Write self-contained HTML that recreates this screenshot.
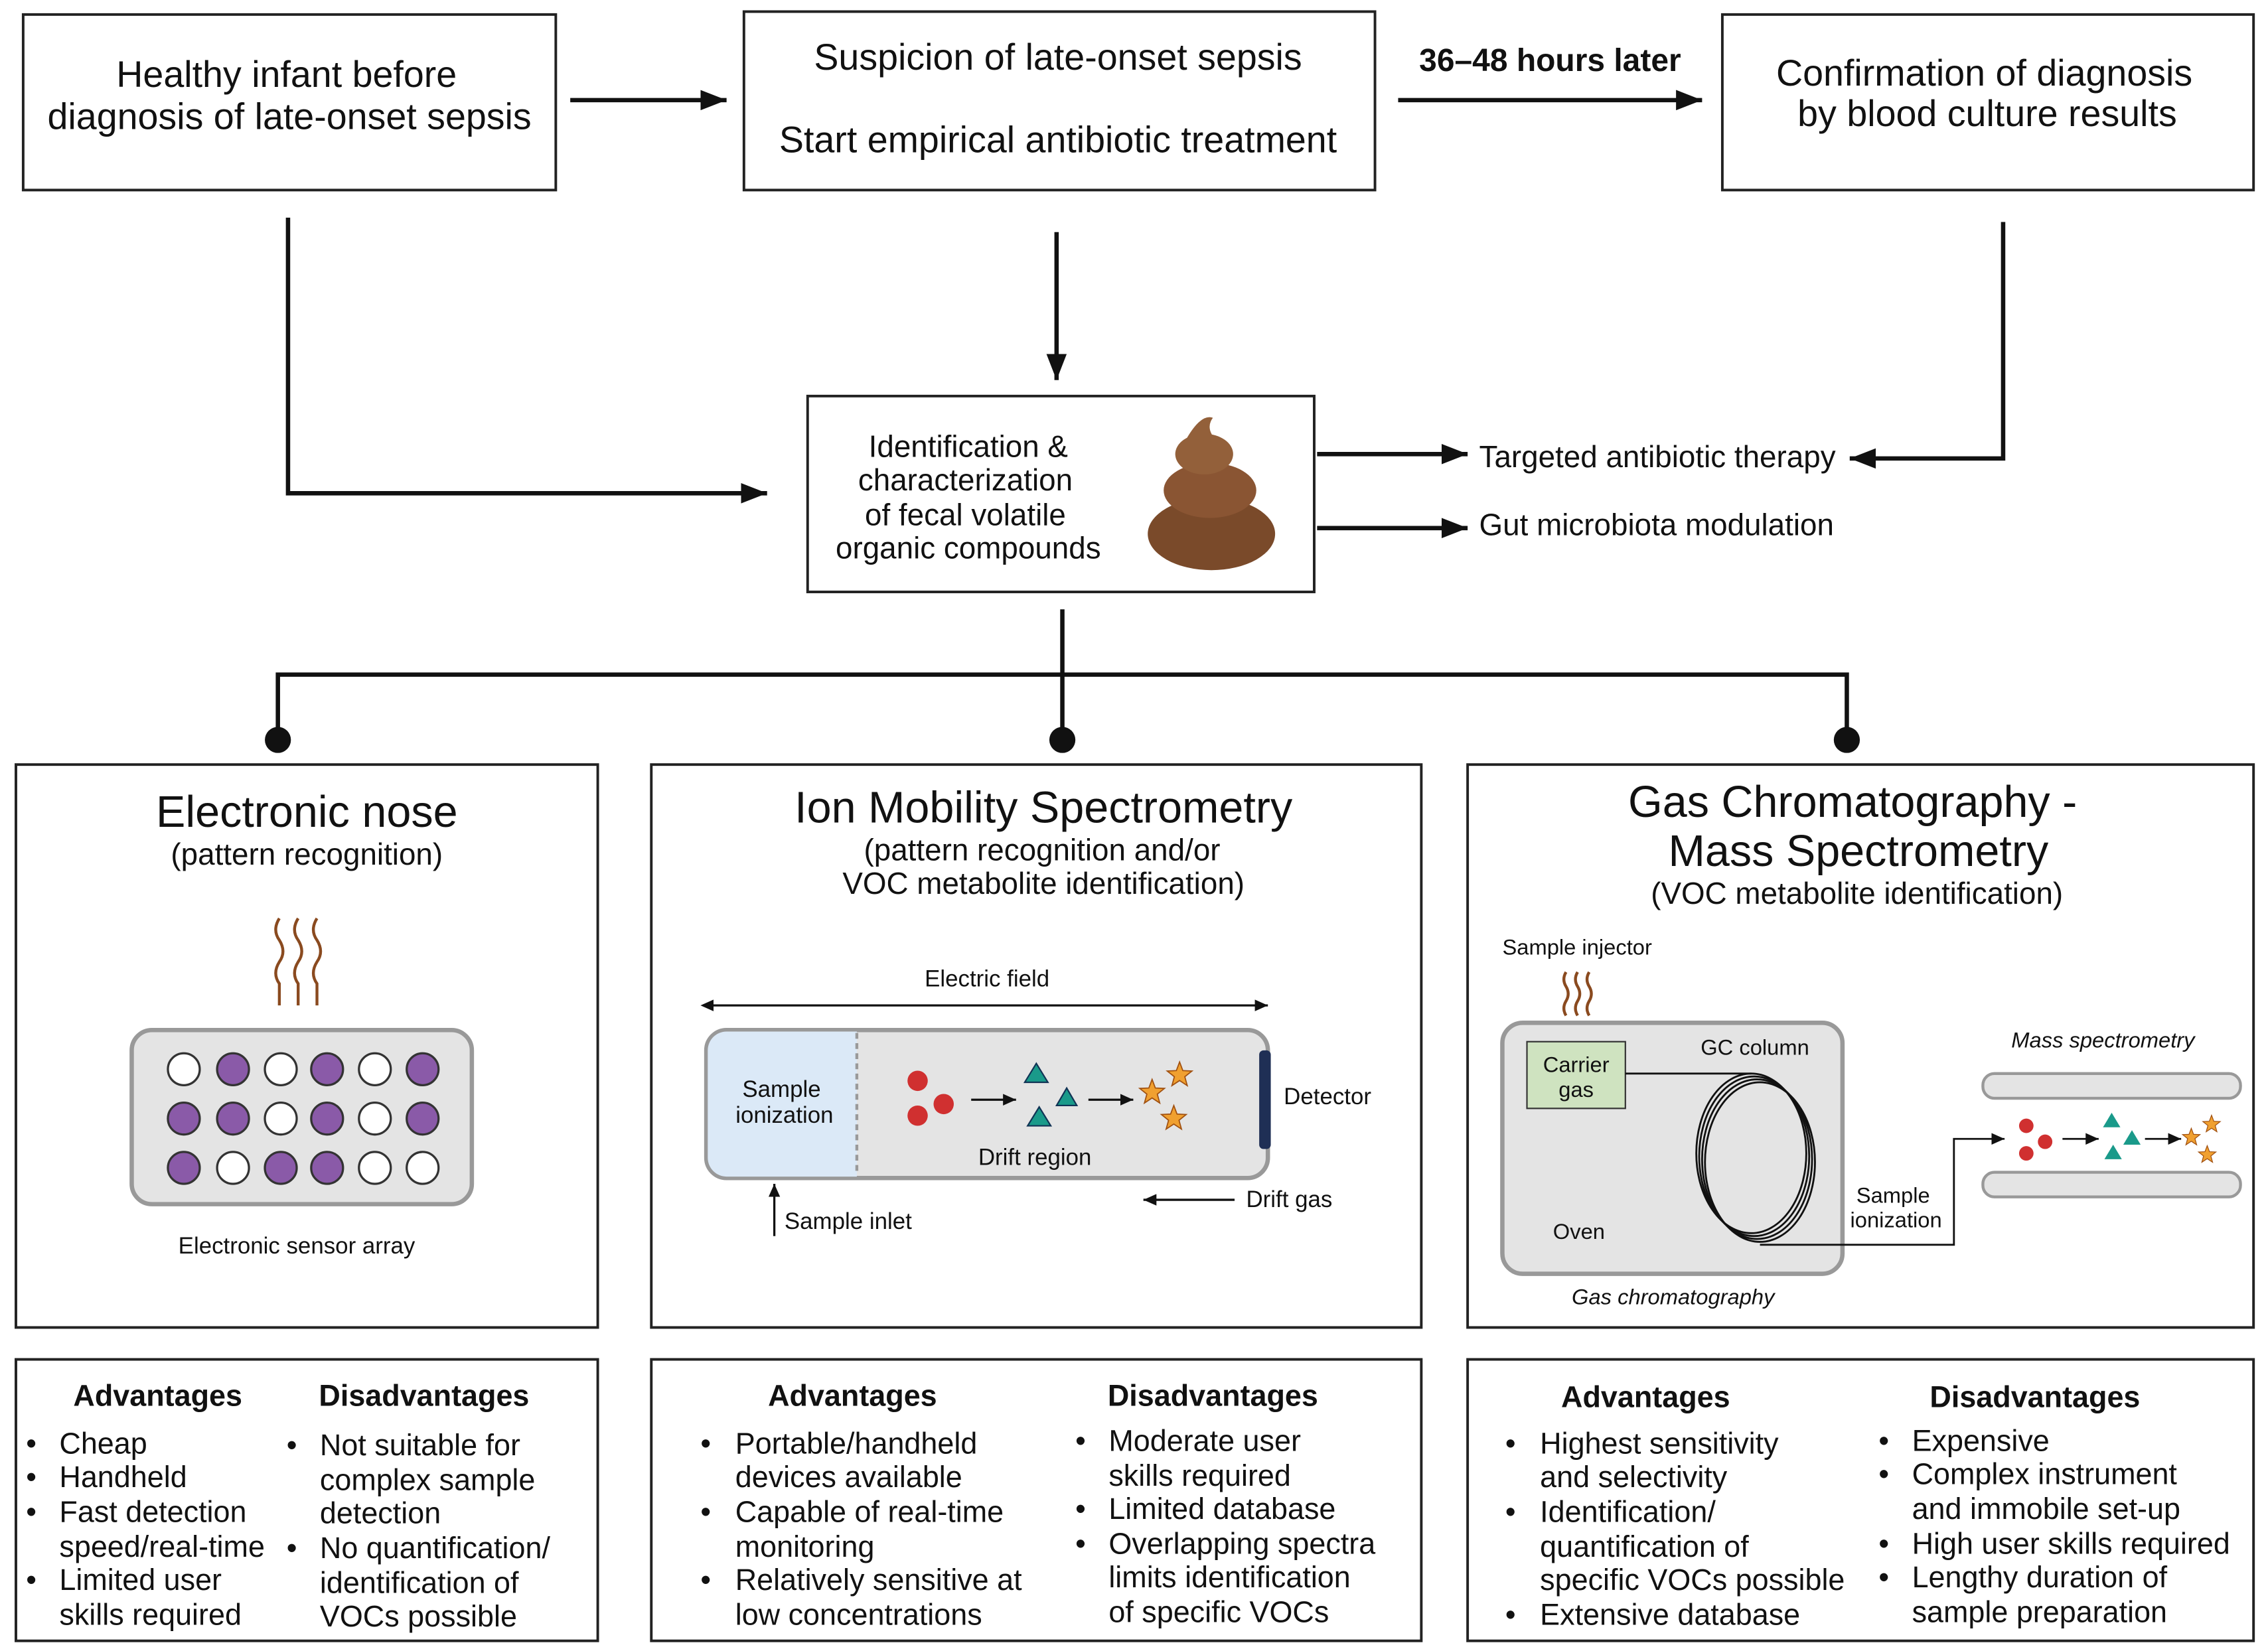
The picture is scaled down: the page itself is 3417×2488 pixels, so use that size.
<!DOCTYPE html>
<html><head><meta charset="utf-8"><style>
html,body{margin:0;padding:0;background:#fff;}
svg{display:block;}
text{font-family:"Liberation Sans",sans-serif;fill:#111;}
</style></head><body>
<svg width="3417" height="2488" viewBox="0 0 1567 1138" preserveAspectRatio="none" xmlns="http://www.w3.org/2000/svg">
<defs>
<marker id="a2" markerWidth="20" markerHeight="14" refX="18" refY="7" orient="auto" markerUnits="userSpaceOnUse"><path d="M0,0 L18,7 L0,14 z" fill="#111"/></marker>
<marker id="a3" markerWidth="10" markerHeight="8" refX="9" refY="4" orient="auto" markerUnits="userSpaceOnUse"><path d="M0,0 L9,4 L0,8 z" fill="#111"/></marker>
<marker id="a3s" markerWidth="10" markerHeight="8" refX="1" refY="4" orient="auto-start-reverse" markerUnits="userSpaceOnUse"><path d="M0,0 L9,4 L0,8 z" fill="#111"/></marker>
<polygon id="st" points="0,-9 2.23,-3.07 8.56,-2.78 3.61,1.17 5.29,7.28 0,3.8 -5.29,7.28 -3.61,1.17 -8.56,-2.78 -2.23,-3.07" fill="#f0a030" stroke="#a05010" stroke-width="0.8"/>
</defs>
<g fill="none" stroke="#222" stroke-width="1.8">
<rect x="16" y="10" width="368" height="121"/>
<rect x="514" y="8" width="436" height="123"/>
<rect x="1190" y="10" width="367" height="121"/>
<rect x="558" y="273" width="350" height="135"/>
<rect x="11" y="527" width="402" height="388"/>
<rect x="450" y="527" width="532" height="388"/>
<rect x="1014" y="527" width="543" height="388"/>
<rect x="11" y="937" width="402" height="194"/>
<rect x="450" y="937" width="532" height="194"/>
<rect x="1014" y="937" width="543" height="194"/>
</g>
<g stroke="#111" stroke-width="3" fill="none">
<line x1="394" y1="69" x2="502" y2="69" marker-end="url(#a2)"/>
<line x1="966" y1="69" x2="1176" y2="69" marker-end="url(#a2)"/>
<polyline points="199,150 199,340 530,340" marker-end="url(#a2)"/>
<line x1="730" y1="160" x2="730" y2="262" marker-end="url(#a2)"/>
<polyline points="1384,153 1384,316 1278,316" marker-end="url(#a2)"/>
<line x1="910" y1="313" x2="1014" y2="313" marker-end="url(#a2)"/>
<line x1="910" y1="364" x2="1014" y2="364" marker-end="url(#a2)"/>
<line x1="734" y1="420" x2="734" y2="510"/>
<polyline points="192,510 192,465 1276,465 1276,510"/>
</g>
<g fill="#111"><circle cx="192" cy="510" r="9"/><circle cx="734" cy="510" r="9"/><circle cx="1276" cy="510" r="9"/></g>
<g font-size="25.5" text-anchor="middle">
<text x="198" y="60">Healthy infant before</text>
<text x="200" y="89">diagnosis of late-onset sepsis</text>
<text x="731" y="48">Suspicion of late-onset sepsis</text>
<text x="731" y="105">Start empirical antibiotic treatment</text>
<text x="1371" y="59">Confirmation of diagnosis</text>
<text x="1373" y="87">by blood culture results</text>
<text x="1071" y="49" font-weight="bold" font-size="22">36–48 hours later</text>
</g>
<g font-size="21" text-anchor="middle">
<text x="669" y="315">Identification &amp;</text>
<text x="667" y="338">characterization</text>
<text x="667" y="362">of fecal volatile</text>
<text x="669" y="385">organic compounds</text>
</g>
<g>
<ellipse cx="837" cy="368" rx="44" ry="25" fill="#7a4a2a"/>
<ellipse cx="836" cy="338" rx="32" ry="19" fill="#8a5533"/>
<ellipse cx="832" cy="313" rx="20" ry="14" fill="#93603a"/>
<path d="M820,302 Q830,285 838,288 Q832,296 842,305 Z" fill="#93603a"/>
</g>
<g font-size="21">
<text x="1022" y="322">Targeted antibiotic therapy</text>
<text x="1022" y="369">Gut microbiota modulation</text>
</g>
<g text-anchor="middle">
<text x="212" y="570" font-size="30.5">Electronic nose</text>
<text x="212" y="596" font-size="21">(pattern recognition)</text>
<text x="721" y="567" font-size="30.5">Ion Mobility Spectrometry</text>
<text x="720" y="593" font-size="21">(pattern recognition and/or</text>
<text x="721" y="616" font-size="21">VOC metabolite identification)</text>
<text x="1280" y="563" font-size="30.5">Gas Chromatography -</text>
<text x="1284" y="597" font-size="30.5">Mass Spectrometry</text>
<text x="1283" y="623" font-size="21">(VOC metabolite identification)</text>
</g>
<g stroke="#8a4a1f" stroke-width="2" fill="none">
<path d="M193,633 q-5,8 0,15 q5,8 0,15 q-5,8 0,15 v15"/>
<path d="M206,633 q-5,8 0,15 q5,8 0,15 q-5,8 0,15 v15"/>
<path d="M219,633 q-5,8 0,15 q5,8 0,15 q-5,8 0,15 v15"/>
<path d="M1082,670 q-3,5 0,10 q3,5 0,10 q-3,5 0,10"/>
<path d="M1090,670 q-3,5 0,10 q3,5 0,10 q-3,5 0,10"/>
<path d="M1098,670 q-3,5 0,10 q3,5 0,10 q-3,5 0,10"/>
</g>
<rect x="91" y="710" width="235" height="120" rx="14" fill="#e4e4e4" stroke="#999" stroke-width="3"/>
<g stroke="#333" stroke-width="1.5">
<circle cx="127" cy="737" r="11" fill="#fff"/><circle cx="161" cy="737" r="11" fill="#8a5aa8"/><circle cx="194" cy="737" r="11" fill="#fff"/><circle cx="226" cy="737" r="11" fill="#8a5aa8"/><circle cx="259" cy="737" r="11" fill="#fff"/><circle cx="292" cy="737" r="11" fill="#8a5aa8"/>
<circle cx="127" cy="771" r="11" fill="#8a5aa8"/><circle cx="161" cy="771" r="11" fill="#8a5aa8"/><circle cx="194" cy="771" r="11" fill="#fff"/><circle cx="226" cy="771" r="11" fill="#8a5aa8"/><circle cx="259" cy="771" r="11" fill="#fff"/><circle cx="292" cy="771" r="11" fill="#8a5aa8"/>
<circle cx="127" cy="805" r="11" fill="#8a5aa8"/><circle cx="161" cy="805" r="11" fill="#fff"/><circle cx="194" cy="805" r="11" fill="#8a5aa8"/><circle cx="226" cy="805" r="11" fill="#8a5aa8"/><circle cx="259" cy="805" r="11" fill="#fff"/><circle cx="292" cy="805" r="11" fill="#fff"/>
</g>
<text x="205" y="864" font-size="16" text-anchor="middle">Electronic sensor array</text>
<line x1="492" y1="693" x2="876" y2="693" stroke="#111" stroke-width="1.5" marker-end="url(#a3)" marker-start="url(#a3s)"/>
<text x="682" y="680" font-size="16" text-anchor="middle">Electric field</text>
<rect x="488" y="710" width="388" height="102" rx="14" fill="#e4e4e4" stroke="#999" stroke-width="3"/>
<path d="M502,711 h90 v100 h-90 a13,13 0 0 1 -13,-13 v-74 a13,13 0 0 1 13,-13z" fill="#dbe9f7"/>
<line x1="592" y1="712" x2="592" y2="810" stroke="#999" stroke-dasharray="4,3" stroke-width="2"/>
<rect x="870" y="724" width="8" height="68" rx="3" fill="#1f2f55"/>
<text x="540" y="756" font-size="16" text-anchor="middle">Sample</text>
<text x="542" y="774" font-size="16" text-anchor="middle">ionization</text>
<text x="887" y="761" font-size="16">Detector</text>
<text x="715" y="803" font-size="16" text-anchor="middle">Drift region</text>
<g fill="#d03030"><circle cx="634" cy="745" r="7"/><circle cx="634" cy="769" r="7"/><circle cx="652" cy="761" r="7"/></g>
<g stroke="#111" stroke-width="1.5"><line x1="671" y1="758" x2="702" y2="758" marker-end="url(#a3)"/><line x1="752" y1="758" x2="783" y2="758" marker-end="url(#a3)"/></g>
<g fill="#1a9a8a" stroke="#135"><path d="M716,733 l8,13 h-16z"/><path d="M737,750 l7,12 h-14z"/><path d="M718,763 l8,13 h-16z"/></g>
<use href="#st" x="796" y="753"/><use href="#st" x="815" y="741"/><use href="#st" x="811" y="771"/>
<line x1="535" y1="852" x2="535" y2="816" stroke="#111" stroke-width="1.5" marker-end="url(#a3)"/>
<text x="542" y="847" font-size="16">Sample inlet</text>
<line x1="853" y1="827" x2="790" y2="827" stroke="#111" stroke-width="1.5" marker-end="url(#a3)"/>
<text x="861" y="832" font-size="16">Drift gas</text>
<text x="1038" y="658" font-size="15">Sample injector</text>
<rect x="1038" y="705" width="235" height="173" rx="14" fill="#e4e4e4" stroke="#999" stroke-width="3"/>
<rect x="1055" y="718" width="68" height="46" fill="#cfe3c0" stroke="#333"/>
<text x="1089" y="739" font-size="15" text-anchor="middle">Carrier</text>
<text x="1089" y="756" font-size="15" text-anchor="middle">gas</text>
<text x="1175" y="727" font-size="15">GC column</text>
<text x="1073" y="854" font-size="15">Oven</text>
<g fill="none" stroke="#111" stroke-width="1.3">
<line x1="1123" y1="740" x2="1210" y2="740"/>
<ellipse cx="1210" cy="795" rx="38" ry="55"/><ellipse cx="1212" cy="797" rx="38" ry="55"/><ellipse cx="1214" cy="799" rx="38" ry="55"/><ellipse cx="1216" cy="801" rx="38" ry="55"/>
<polyline points="1216,858 1350,858 1350,785 1385,785" marker-end="url(#a3)"/>
</g>
<text x="1308" y="829" font-size="15" text-anchor="middle">Sample</text>
<text x="1310" y="846" font-size="15" text-anchor="middle">ionization</text>
<text x="1156" y="899" font-size="15" font-style="italic" text-anchor="middle">Gas chromatography</text>
<text x="1453" y="722" font-size="15" font-style="italic" text-anchor="middle">Mass spectrometry</text>
<rect x="1370" y="740" width="178" height="17" rx="8" fill="#e4e4e4" stroke="#999" stroke-width="2"/>
<rect x="1370" y="808" width="178" height="17" rx="8" fill="#e4e4e4" stroke="#999" stroke-width="2"/>
<g fill="#d03030"><circle cx="1400" cy="776" r="5"/><circle cx="1400" cy="795" r="5"/><circle cx="1413" cy="787" r="5"/></g>
<g stroke="#111" stroke-width="1.3"><line x1="1425" y1="785" x2="1450" y2="785" marker-end="url(#a3)"/><line x1="1482" y1="785" x2="1507" y2="785" marker-end="url(#a3)"/></g>
<g fill="#1a9a8a"><path d="M1459,767 l6,10 h-12z"/><path d="M1473,779 l6,10 h-12z"/><path d="M1460,789 l6,10 h-12z"/></g>
<g transform="translate(1514,784) scale(0.7)"><use href="#st"/></g>
<g transform="translate(1528,775) scale(0.7)"><use href="#st"/></g>
<g transform="translate(1525,796) scale(0.7)"><use href="#st"/></g>
<g font-size="20.6" font-weight="bold" text-anchor="middle">
<text x="109" y="969">Advantages</text><text x="293" y="969">Disadvantages</text>
<text x="589" y="969">Advantages</text><text x="838" y="969">Disadvantages</text>
<text x="1137" y="970">Advantages</text><text x="1406" y="970">Disadvantages</text>
</g>
<g font-size="20.6">
<g><text x="18" y="1002">•</text><text x="41" y="1002">Cheap</text>
<text x="18" y="1025">•</text><text x="41" y="1025">Handheld</text>
<text x="18" y="1049">•</text><text x="41" y="1049">Fast detection</text>
<text x="41" y="1073">speed/real-time</text>
<text x="18" y="1096">•</text><text x="41" y="1096">Limited user</text>
<text x="41" y="1120">skills required</text></g>
<g><text x="198" y="1003">•</text><text x="221" y="1003">Not suitable for</text>
<text x="221" y="1027">complex sample</text>
<text x="221" y="1050">detection</text>
<text x="198" y="1074">•</text><text x="221" y="1074">No quantification/</text>
<text x="221" y="1098">identification of</text>
<text x="221" y="1121">VOCs possible</text></g>
<g><text x="484" y="1002">•</text><text x="508" y="1002">Portable/handheld</text>
<text x="508" y="1025">devices available</text>
<text x="484" y="1049">•</text><text x="508" y="1049">Capable of real-time</text>
<text x="508" y="1073">monitoring</text>
<text x="484" y="1096">•</text><text x="508" y="1096">Relatively sensitive at</text>
<text x="508" y="1120">low concentrations</text></g>
<g><text x="743" y="1000">•</text><text x="766" y="1000">Moderate user</text>
<text x="766" y="1024">skills required</text>
<text x="743" y="1047">•</text><text x="766" y="1047">Limited database</text>
<text x="743" y="1071">•</text><text x="766" y="1071">Overlapping spectra</text>
<text x="766" y="1094">limits identification</text>
<text x="766" y="1118">of specific VOCs</text></g>
<g><text x="1040" y="1002">•</text><text x="1064" y="1002">Highest sensitivity</text>
<text x="1064" y="1025">and selectivity</text>
<text x="1040" y="1049">•</text><text x="1064" y="1049">Identification/</text>
<text x="1064" y="1073">quantification of</text>
<text x="1064" y="1096">specific VOCs possible</text>
<text x="1040" y="1120">•</text><text x="1064" y="1120">Extensive database</text></g>
<g><text x="1298" y="1000">•</text><text x="1321" y="1000">Expensive</text>
<text x="1298" y="1023">•</text><text x="1321" y="1023">Complex instrument</text>
<text x="1321" y="1047">and immobile set-up</text>
<text x="1298" y="1071">•</text><text x="1321" y="1071">High user skills required</text>
<text x="1298" y="1094">•</text><text x="1321" y="1094">Lengthy duration of</text>
<text x="1321" y="1118">sample preparation</text></g>
</g>
</svg>
</body></html>
